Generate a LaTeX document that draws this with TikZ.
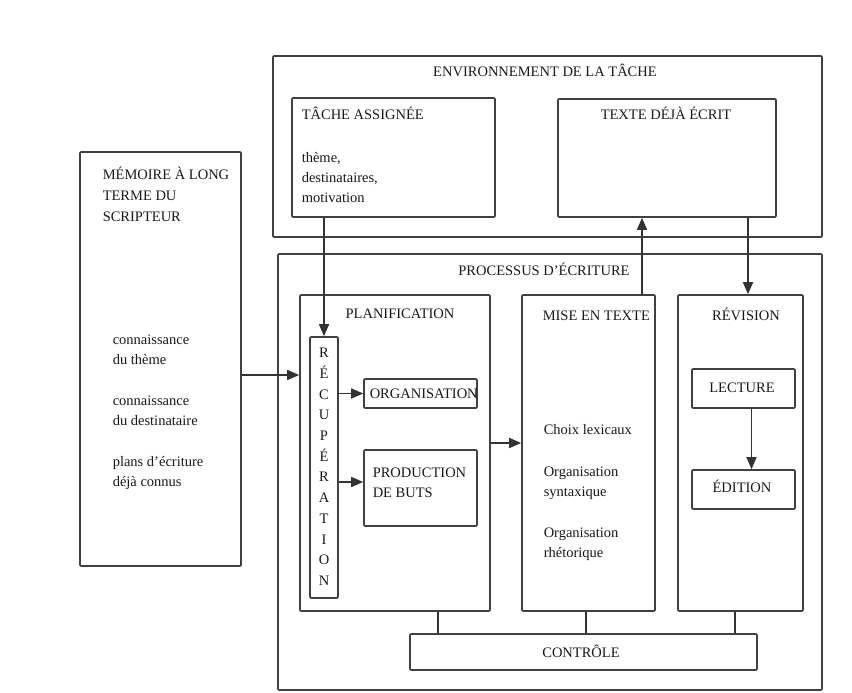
\documentclass[tikz,border=0pt]{standalone}
\usepackage{fontspec}
\setmainfont{Liberation Serif}
\usetikzlibrary{arrows.meta}

\tikzset{
  boite/.style={draw=black!75, line width=1.6pt, rounded corners=1pt, inner sep=0pt},
  titre/.style={inner sep=0pt, anchor=base, text=black!90},
  liste/.style={inner sep=0pt, anchor=north west, align=left, text=black!90},
}

\begin{document}
\begin{tikzpicture}[x=1pt, y=-1pt, font=\fontsize{14.5}{20}\selectfont,
                    >={Triangle[length=12pt,width=10pt]}, line width=1.5pt, draw=black!80]
\useasboundingbox (0,0) rectangle (852,693);

% environnement de la tache
\node[boite, minimum width=549pt, minimum height=181pt] (env) at (547.5,146.5) {};
\node[titre] (envtitre) at (545,77) {ENVIRONNEMENT DE LA TÂCHE};
\node[boite, minimum width=203pt, minimum height=119pt] (tache) at (393.5,157.5) {};
\node[titre, anchor=base west] (tachetitre) at (301,120) {TÂCHE ASSIGNÉE};
\node[liste] (tachetexte) at (301,148) {\strut thème,\\ destinataires,\\ motivation};
\node[boite, minimum width=218pt, minimum height=118pt] (deja) at (667,158) {};
\node[titre] (dejatitre) at (666,120) {TEXTE DÉJÀ ÉCRIT};

% memoire du scripteur
\node[boite, minimum width=161pt, minimum height=414pt] (memoire) at (160.5,359) {};
\node[liste, font=\fontsize{14.5}{21}\selectfont] (memtitre) at (102,164)
  {\strut MÉMOIRE À LONG\\ TERME DU\\ SCRIPTEUR};
\node[liste] (memtexte) at (112,330) {\strut connaissance\\ du thème\\[21pt]
  connaissance\\ du destinataire\\[21pt] plans d'écriture\\ déjà connus};

% processus d'ecriture
\node[boite, minimum width=544pt, minimum height=436pt] (processus) at (550,472) {};
\node[titre] (proctitre) at (544,275) {PROCESSUS D'ÉCRITURE};

\node[boite, minimum width=190pt, minimum height=316pt] (planif) at (395,453) {};
\node[titre] (planiftitre) at (400,318) {PLANIFICATION};
\node[boite, minimum width=28pt, minimum height=261pt] (recup) at (324,467.5) {};
\node[titre, anchor=north, align=center, font=\fontsize{14.5}{20.7}\selectfont] (recuptexte)
  at (324,342.5) {\strut R\\É\\C\\U\\P\\É\\R\\A\\T\\I\\O\\N};
\node[boite, minimum width=113pt, minimum height=29pt] (orga) at (420.5,393.5) {};
\node[titre, anchor=base west] (orgatexte) at (369,398) {ORGANISATION};
\node[boite, minimum width=113pt, minimum height=76pt] (prod) at (420.5,488) {};
\node[liste] (prodtexte) at (372,463) {\strut PRODUCTION\\ DE BUTS};

\node[boite, minimum width=133pt, minimum height=316pt] (mise) at (588.5,453) {};
\node[titre, anchor=base west] (misetitre) at (542,320) {MISE EN TEXTE};
\node[liste] (misetexte) at (543,420) {\strut Choix lexicaux\\[21.5pt]
  Organisation\\ syntaxique\\[21.5pt] Organisation\\ rhétorique};

\node[boite, minimum width=125pt, minimum height=316pt] (revision) at (740.5,453) {};
\node[titre] (revtitre) at (746,320) {RÉVISION};
\node[boite, minimum width=103pt, minimum height=39pt] (lecture) at (743.5,388.5) {};
\node[titre] (lecturetexte) at (742,392) {LECTURE};
\node[boite, minimum width=103pt, minimum height=39pt] (edition) at (743.5,489.5) {};
\node[titre] (editiontexte) at (742,492) {ÉDITION};

\node[boite, minimum width=347pt, minimum height=36pt] (controle) at (583.5,652) {};
\node[titre] (controletexte) at (581,657) {CONTRÔLE};

% liens
\draw[->] (recup.north |- tache.south) -- (recup.north);
\draw[->] ([yshift=-16pt]memoire.east) -- ([yshift=-16pt]memoire.east -| planif.west);
\draw[->] (recup.east |- orga.west) -- (orga.west);
\draw[->] ([yshift=6pt]prod.west -| recup.east) -- ([yshift=6pt]prod.west);
\draw[->] ([yshift=10pt]planif.east) -- ([yshift=10pt]planif.east -| mise.west);
\draw[->] ([xshift=53.5pt]mise.north) -- ([xshift=53.5pt]mise.north |- deja.south);
\draw[->] ([xshift=7.5pt]revision.north |- deja.south) -- ([xshift=7.5pt]revision.north);
\draw[->] ([xshift=8pt]lecture.south) -- ([xshift=8pt]edition.north);
\draw ([xshift=43pt]planif.south) -- ([xshift=43pt]planif.south |- controle.north);
\draw ([xshift=-2.5pt]mise.south) -- ([xshift=-2.5pt]mise.south |- controle.north);
\draw ([xshift=-5.5pt]revision.south) -- ([xshift=-5.5pt]revision.south |- controle.north);
\end{tikzpicture}
\end{document}
